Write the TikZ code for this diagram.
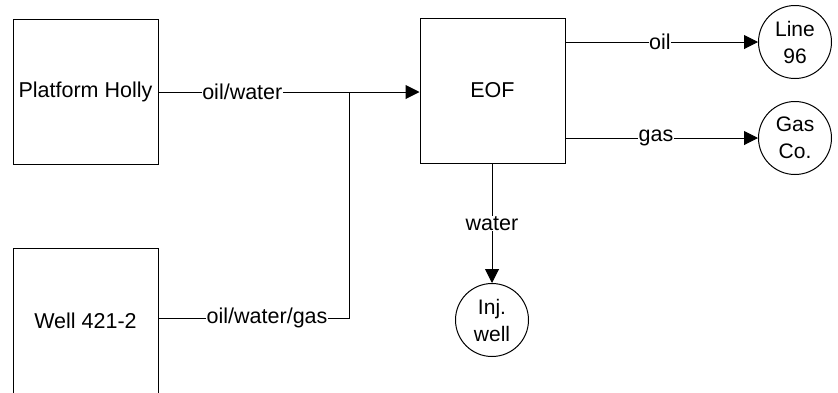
\documentclass[tikz,border=0pt]{standalone}
\usepackage{fontspec}
\setmainfont{Liberation Sans}
\usetikzlibrary{arrows.meta}
\begin{document}
\begin{tikzpicture}[x=1pt,y=-1pt, line width=1pt,
 box/.style={draw, minimum width=145pt, minimum height=145pt, inner sep=0pt, font=\fontsize{21.5}{26}\selectfont},
 term/.style={draw, circle, minimum size=73pt, inner sep=0pt, align=center, font=\fontsize{21}{27}\selectfont},
 lbl/.style={fill=white, inner sep=0.5pt, font=\fontsize{21.5}{26}\selectfont},
 flow/.style={-{Triangle[length=14pt,width=14pt]}}]
\useasboundingbox (0,0) rectangle (838,392);
\node[box] (PH) at (85.5,91.5) {Platform Holly};
\node[box] (W) at (85.5,320.5) {Well 421-2};
\node[box] (EOF) at (492.5,90.5) {EOF};
\node[term] (L96) at (795,42) {Line\\96};
\node[term] (GC) at (795,138) {Gas\\Co.};
\node[term] (IW) at (492,320) {Inj.\\well};
\coordinate (J1) at (349,92);
\coordinate (J2) at (349,318);
\draw (PH.east |- J1) -- node[lbl, pos=0.44] {oil/water} (J1);
\draw[flow] (J1) -- (J1 -| EOF.west);
\draw (W.east |- J2) -- node[lbl, pos=0.57] {oil/water/gas} (J2) -- (J1);
\draw[flow] (EOF.east |- L96.center) -- node[lbl, pos=0.49] {oil} (L96.west);
\draw[flow] (EOF.east |- GC.center) -- node[lbl, pos=0.47] {gas} (GC.west);
\draw[flow] (EOF.south -| IW.center) -- node[lbl, pos=0.5] {water} (IW.north);
\end{tikzpicture}
\end{document}
